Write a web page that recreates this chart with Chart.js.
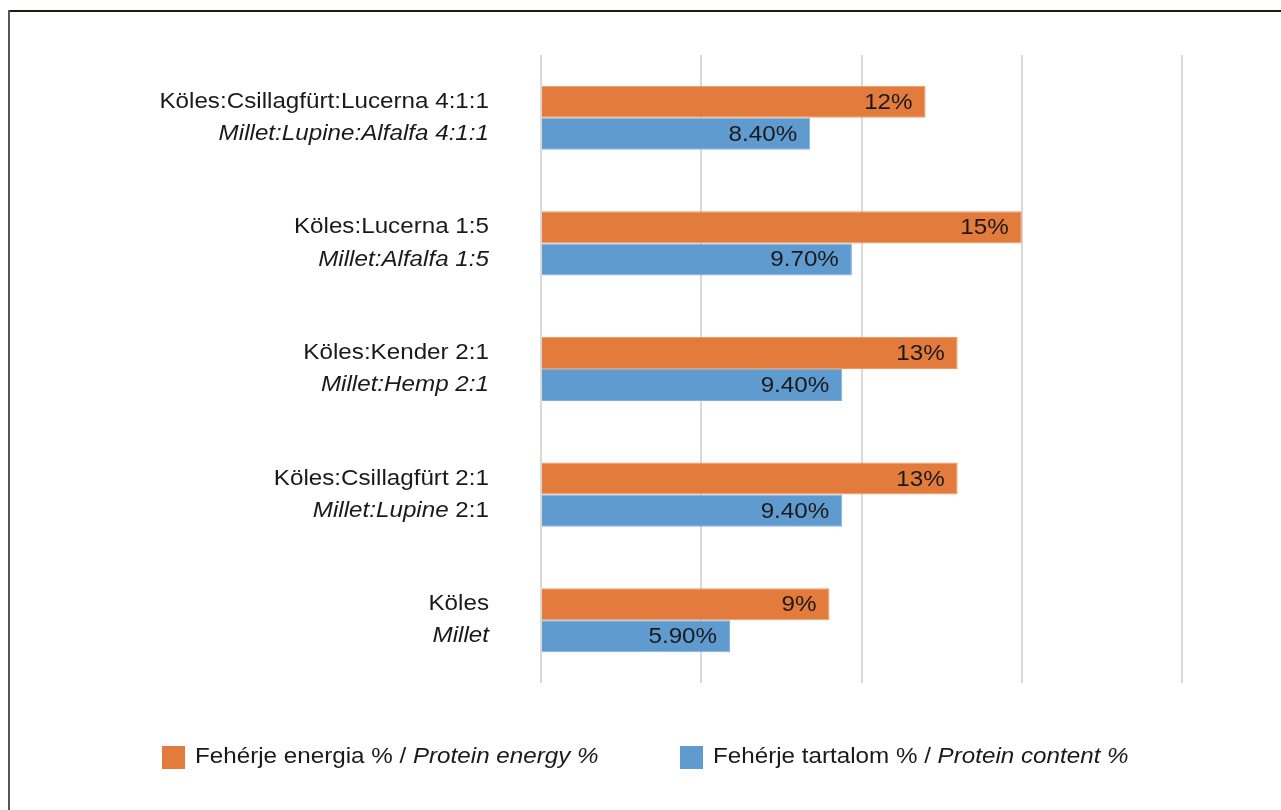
<!DOCTYPE html>
<html>
<head>
<meta charset="utf-8">
<title>Köles keverékek fehérjetartalma</title>
<script src="https://cdn.jsdelivr.net/npm/chart.js@4/dist/chart.umd.min.js"></script>
<style>
  html, body { margin: 0; padding: 0; background: #ffffff; }
  #wrap { position: relative; width: 1281px; height: 810px; }
</style>
</head>
<body>
<div id="wrap"><canvas id="chart" width="1281" height="810"></canvas></div>
<script>
// Category labels: Hungarian line (upright) and English line (italic, optional upright tail)
const categoriesHu = ['Köles:Csillagfürt:Lucerna 4:1:1', 'Köles:Lucerna 1:5', 'Köles:Kender 2:1', 'Köles:Csillagfürt 2:1', 'Köles'];
const categoriesEnItalic = ['Millet:Lupine:Alfalfa 4:1:1', 'Millet:Alfalfa 1:5', 'Millet:Hemp 2:1', 'Millet:Lupine', 'Millet'];
const categoriesEnPlain = ['', '', '', ' 2:1', ''];

// Series values (%)
const proteinEnergy = [12, 15, 13, 13, 9];
const proteinContent = [8.4, 9.7, 9.4, 9.4, 5.9];

// Series names
const seriesHu = ['Fehérje energia %', 'Fehérje tartalom %'];
const seriesEn = ['Protein energy %', 'Protein content %'];

// Value axis gridline positions
const xTicks = [0, 5, 10, 15, 20];

const FONT = '"Liberation Sans", Arial, Helvetica, sans-serif';
const TEXT = '#1a1a1a';
const SIZE = 22;
const STRETCH = 1.1; // wide grotesque look

function font(italic) {
  return (italic ? 'italic ' : '') + SIZE + 'px ' + FONT;
}

// Draws horizontally widened text; returns its drawn width
function wideText(ctx, text, x, y, align, italic) {
  ctx.save();
  ctx.font = font(italic);
  ctx.textAlign = align;
  ctx.textBaseline = 'middle';
  ctx.translate(x, y);
  ctx.scale(STRETCH, 1);
  ctx.fillText(text, 0, 0);
  const w = ctx.measureText(text).width * STRETCH;
  ctx.restore();
  return w;
}

const twoLineLabels = {
  id: 'twoLineLabels',
  afterDraw(chart) {
    const ctx = chart.ctx;
    const yScale = chart.scales.y;
    const right = chart.chartArea.left - 52;
    ctx.save();
    ctx.fillStyle = TEXT;
    categoriesHu.forEach((hu, i) => {
      const yc = yScale.getPixelForValue(i);
      wideText(ctx, hu, right, yc - 16, 'right', false);
      // English line: italic part followed by an optional upright tail
      const plain = categoriesEnPlain[i];
      let x = right;
      if (plain) {
        x -= wideText(ctx, plain, x, yc + 16, 'right', false);
      }
      wideText(ctx, categoriesEnItalic[i], x, yc + 16, 'right', true);
    });
    ctx.restore();
  }
};

const valueLabels = {
  id: 'valueLabels',
  afterDatasetsDraw(chart) {
    const ctx = chart.ctx;
    ctx.save();
    ctx.fillStyle = TEXT;
    chart.data.datasets.forEach((ds, d) => {
      chart.getDatasetMeta(d).data.forEach((bar, i) => {
        const v = ds.data[i];
        const txt = d === 0 ? v.toFixed(0) + '%' : v.toFixed(2) + '%';
        wideText(ctx, txt, bar.x - 13, bar.y + 1, 'right', false);
      });
    });
    ctx.restore();
  }
};

const customLegend = {
  id: 'customLegend',
  afterDraw(chart) {
    const ctx = chart.ctx;
    const starts = [162, 680];
    const yc = 757;
    ctx.save();
    chart.data.datasets.forEach((ds, d) => {
      const x0 = starts[d];
      ctx.fillStyle = ds.backgroundColor;
      ctx.fillRect(x0, yc - 11, 23, 23);
      ctx.fillStyle = TEXT;
      const hu = seriesHu[d] + ' / ';
      const w = wideText(ctx, hu, x0 + 33, yc, 'left', false);
      wideText(ctx, seriesEn[d], x0 + 33 + w, yc, 'left', true);
    });
    ctx.restore();
  }
};

const frame = {
  id: 'frame',
  beforeDraw(chart) {
    const ctx = chart.ctx;
    ctx.save();
    ctx.fillStyle = '#ffffff';
    ctx.fillRect(0, 0, chart.width, chart.height);
    ctx.fillStyle = '#1e1a16';
    ctx.fillRect(8, 10, chart.width - 8, 2);
    ctx.fillStyle = '#5a5653';
    ctx.fillRect(8, 10, 2, chart.height - 10);
    ctx.restore();
  }
};

new Chart(document.getElementById('chart'), {
  type: 'bar',
  data: {
    labels: categoriesHu,
    datasets: [
      {
        label: seriesHu[0] + ' / ' + seriesEn[0],
        data: proteinEnergy,
        backgroundColor: '#e27b3c',
        borderColor: '#ef9a62',
        borderWidth: 1,
        categoryPercentage: 0.51,
        barPercentage: 1.0
      },
      {
        label: seriesHu[1] + ' / ' + seriesEn[1],
        data: proteinContent,
        backgroundColor: '#5f9bcf',
        borderColor: '#83b1dc',
        borderWidth: 1,
        categoryPercentage: 0.51,
        barPercentage: 1.0
      }
    ]
  },
  options: {
    indexAxis: 'y',
    responsive: false,
    animation: false,
    layout: { padding: { left: 541, right: 99, top: 55, bottom: 127 } },
    plugins: { legend: { display: false }, tooltip: { enabled: false } },
    scales: {
      x: {
        min: 0,
        max: 20,
        afterBuildTicks(axis) { axis.ticks = xTicks.map(v => ({ value: v })); },
        ticks: { display: false },
        grid: { color: '#d9d9d9', lineWidth: 2, drawTicks: false },
        border: { display: false }
      },
      y: {
        display: false
      }
    }
  },
  plugins: [frame, twoLineLabels, valueLabels, customLegend]
});
</script>
</body>
</html>
